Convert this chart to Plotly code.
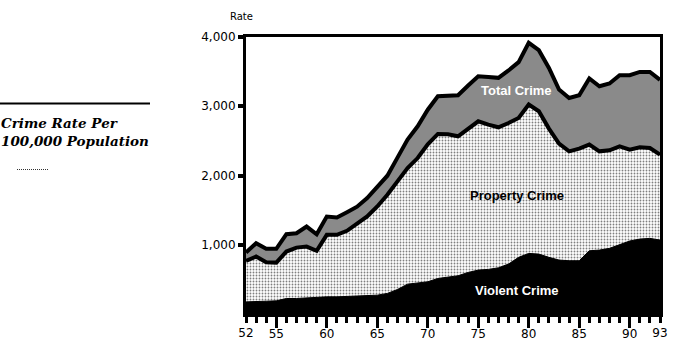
import plotly.graph_objects as go

years = list(range(52, 94))
total_crime = [887, 1022, 941, 941, 1152, 1166, 1263, 1152, 1408, 1394,
               1470, 1550, 1673, 1832, 1997, 2258, 2518, 2711, 2950, 3145,
               3145, 3159, 3300, 3434, 3424, 3410, 3517, 3637, 3916, 3810,
               3554, 3242, 3120, 3159, 3401, 3289, 3329, 3449, 3449, 3496,
               3496, 3381]
property_crime = [767, 829, 747, 742, 902, 959, 974, 912, 1143, 1143,
                  1201, 1300, 1408, 1553, 1722, 1915, 2107, 2252, 2450, 2600,
                  2595, 2566, 2677, 2783, 2735, 2696, 2758, 2831, 3025, 2928,
                  2677, 2460, 2349, 2388, 2446, 2349, 2363, 2421, 2373, 2407,
                  2397, 2301]
violent_crime = [175, 175, 185, 190, 224, 224, 233, 239, 248, 248,
                 253, 258, 263, 272, 297, 354, 431, 450, 465, 513,
                 537, 552, 600, 634, 644, 667, 721, 818, 875, 865,
                 818, 779, 769, 769, 913, 923, 948, 996, 1054, 1082,
                 1092, 1068]

major_years = [55, 60, 65, 70, 75, 80, 85, 90]
major_labels = ["55", "60", "65", "70", "75", "80", "85", "90"]
minor_years = [y for y in years if y not in major_years]
end_years = [52, 93]
end_labels = ["52", "93"]
y_ticks = [1000, 2000, 3000, 4000]
y_labels = ["1,000", "2,000", "3,000", "4,000"]

W, H = 696, 346
ML, MR, MT, MB = 246, 36, 37, 32
PW, PH = W - ML - MR, H - MT - MB


def px(x):
    return (x - ML) / PW


def py(y):
    return (H - MB - y) / PH


fig = go.Figure()
fig.add_trace(go.Scatter(
    x=years, y=total_crime, mode="lines", fill="tozeroy",
    line=dict(color="black", width=4),
    fillcolor="#8a8a8a",
    hoverinfo="skip", showlegend=False))
fig.add_trace(go.Scatter(
    x=years, y=property_crime, mode="lines", fill="tozeroy",
    line=dict(color="black", width=4),
    fillcolor="#dddddd",
    fillpattern=dict(shape=".", fgcolor="black", bgcolor="white",
                     size=3, solidity=0.3),
    hoverinfo="skip", showlegend=False))
fig.add_trace(go.Scatter(
    x=years, y=violent_crime, mode="lines", fill="tozeroy",
    line=dict(color="black", width=1), fillcolor="black",
    xaxis="x2", yaxis="y",
    hoverinfo="skip", showlegend=False))

tickfont = dict(family="DejaVu Sans", size=12, color="black")

fig.update_layout(
    width=W, height=H,
    margin=dict(l=ML, r=MR, t=MT, b=MB, pad=0, autoexpand=False),
    paper_bgcolor="white", plot_bgcolor="white",
    showlegend=False,
    xaxis=dict(range=[52, 93], tickmode="array", tickvals=major_years,
               ticktext=major_labels, ticks="outside", ticklen=11,
               tickwidth=3, tickcolor="black", showgrid=False,
               zeroline=False, showline=True, linecolor="black",
               linewidth=3, mirror=True, tickfont=tickfont,
               automargin=False, ticklabelstandoff=-4,
               minor=dict(tickmode="array", tickvals=minor_years,
                          ticks="outside", ticklen=6, tickwidth=3,
                          tickcolor="black", showgrid=False)),
    xaxis2=dict(range=[52, 93], overlaying="x", anchor="y", side="bottom",
                tickmode="array", tickvals=end_years, ticktext=end_labels,
                ticks="outside", ticklen=6, tickwidth=3, tickcolor="black",
                ticklabelstandoff=2, automargin=False,
                showgrid=False, zeroline=False, showline=False,
                tickfont=tickfont),
    yaxis=dict(range=[0, 4000], tickmode="array", tickvals=y_ticks,
               ticktext=y_labels, ticks="outside", ticklen=5, tickwidth=4,
               tickcolor="black", showgrid=False, zeroline=False,
               showline=True, linecolor="black", linewidth=3, mirror=True,
               tickfont=tickfont, automargin=False),
)

annos = [
    dict(text="Rate", x=px(241), y=py(16.5), size=10, color="black",
         family="DejaVu Sans"),
    dict(text="<b>Total Crime</b>", x=px(516), y=py(90.5), size=13,
         color="white", family="Liberation Sans"),
    dict(text="<b>Property Crime</b>", x=px(517), y=py(196), size=13,
         color="black", family="Liberation Sans"),
    dict(text="<b>Violent Crime</b>", x=px(517), y=py(290), size=13,
         color="white", family="Liberation Sans"),
]
for a in annos:
    fig.add_annotation(text=a["text"], x=a["x"], y=a["y"], xref="paper",
                       yref="paper", showarrow=False, xanchor="center",
                       yanchor="middle",
                       font=dict(family=a["family"], size=a["size"],
                                 color=a["color"]))

fig.add_annotation(text="<b><i>Crime Rate Per<br>100,000 Population</i></b>",
                   x=px(0), y=py(113.5), xref="paper", yref="paper",
                   showarrow=False, xanchor="left", yanchor="top",
                   align="left", borderpad=0,
                   font=dict(family="DejaVu Serif", size=13.5,
                             color="black"))

fig.add_shape(type="line", xref="paper", yref="paper",
              x0=px(0), x1=px(150), y0=py(103.5), y1=py(103.5),
              line=dict(color="black", width=2))
fig.add_shape(type="line", xref="paper", yref="paper",
              x0=px(17), x1=px(48), y0=py(169.5), y1=py(169.5),
              line=dict(color="#333333", width=1, dash="1px,1px"))

fig.write_html("out.html")
